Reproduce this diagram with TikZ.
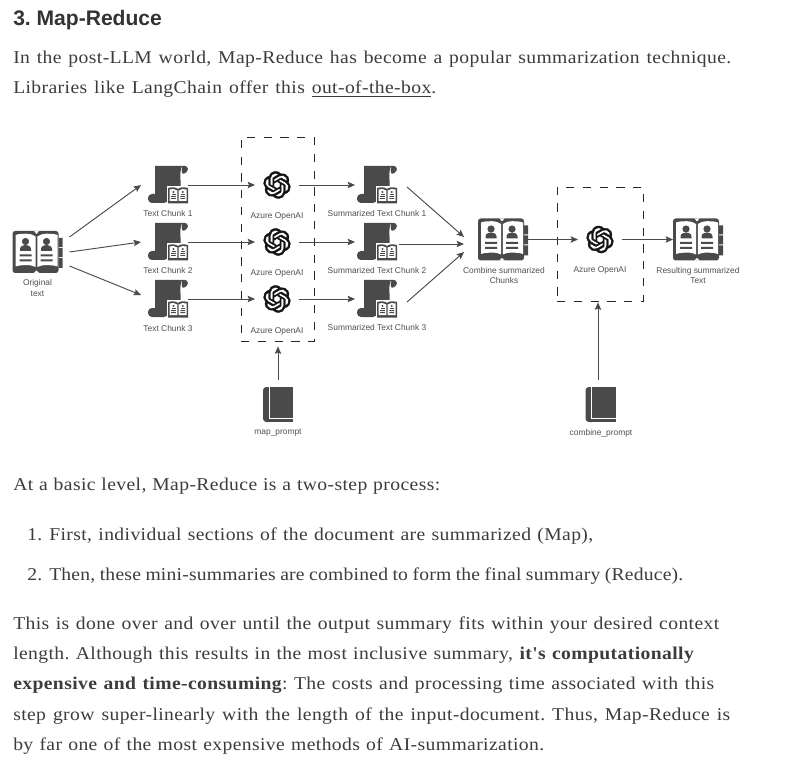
\documentclass[tikz,border=0pt]{standalone}
\usepackage{fontspec}
\usetikzlibrary{arrows.meta,calc,svg.path}
\newfontfamily\bodyfont[FakeStretch=1.09,LetterSpace=2.2]{Liberation Serif}
\newfontfamily\tightfont[FakeStretch=1.09,LetterSpace=1.2]{Liberation Serif}
\newfontfamily\headfont{Liberation Sans}
\newfontfamily\diafont{Liberation Sans}
\newdimen\pxu \pxu=0.75pt
\hbadness=10000 \hfuzz=50pt
\frenchspacing
\definecolor{ic}{HTML}{4A4A4A}
\definecolor{bodyc}{HTML}{3C3C3C}
\definecolor{labc}{HTML}{505050}
\tikzset{
  x=0.75pt,y=-0.75pt,
  iconbox/.style={inner sep=0pt,outer sep=0pt,minimum width=#1*0.75pt},
  lab/.style={font=\diafont\frenchspacing\fontsize{6.3}{7.6}\selectfont,text=labc,align=center,inner sep=0pt},
  arr/.style={draw=ic,line width=0.7pt,-{Stealth[length=5.5pt,width=4.8pt,inset=1pt]}},
  dashbox/.style={draw=black!85,line width=0.7pt,dash pattern=on 6.2pt off 6.4pt,inner sep=0pt,fill=none},
  bodyl/.style={anchor=base west,inner sep=0pt,text=bodyc,font=\bodyfont\frenchspacing\fontsize{13.5}{16}\selectfont},
  openbook/.pic={
    \fill[ic,rounded corners=2pt] (-25,-21) rectangle (21,21);
    \fill[ic] (21,-14) rectangle (25,-5) (21,-4) rectangle (25,5) (21,6) rectangle (25,16);
    \fill[white] (-3.5,-21.2) -- (1.5,-21.2) -- (-1,-18) -- cycle;
    \fill[white] (-22,-17) .. controls (-16,-19) and (-6,-19) .. (-1.8,-15.5) -- (-1.8,15) .. controls (-6,12.5) and (-16,12.5) .. (-22,14.5) -- cycle;
    \fill[white] (20,-17) .. controls (14,-19) and (4,-19) .. (-0.2,-15.5) -- (-0.2,15) .. controls (4,12.5) and (14,12.5) .. (20,14.5) -- cycle;
    \fill[white] (-4,21.2) -- (-1,18.5) -- (2,21.2) -- cycle;
    \foreach \dx in {0,21}{
      \fill[ic] (-12+\dx,-10.5) circle[radius=3.6];
      \fill[ic] (-17.5+\dx,-1.2) -- (-17.5+\dx,-3) .. controls (-17.5+\dx,-6) and (-14+\dx,-7) .. (-12+\dx,-7) .. controls (-10+\dx,-7) and (-6.5+\dx,-6) .. (-6.5+\dx,-3) -- (-6.5+\dx,-1.2) -- cycle;
      \fill[ic] (-18+\dx,2.5) rectangle (-6+\dx,4.3) (-18+\dx,7.5) rectangle (-6+\dx,9.3);
    }
  },
  scrollicon/.pic={
    \fill[ic] (-13,-19) -- (14,-19) .. controls (12,-16) and (12.5,-10) .. (12.5,-5) -- (12.5,10) -- (-13,10) -- cycle;
    \fill[ic] (14,-19) .. controls (18,-19.5) and (20.5,-18) .. (20,-16) .. controls (19.5,-13) and (16,-10.5) .. (14.5,-11.5) .. controls (13.5,-13) and (13.5,-17) .. (14,-19) -- cycle;
    \fill[ic,rounded corners=3pt] (-20,9) rectangle (0,18);
    \fill[white] (-1.5,1) rectangle (21.5,20);
    \fill[ic] (0,3) .. controls (4,2) and (8,2) .. (10,4) .. controls (12,2) and (16,2) .. (20,3) -- (20,18.5) -- (0,18.5) -- cycle;
    \fill[white] (1.5,4.5) .. controls (4,3.8) and (7,3.8) .. (9.4,5.5) -- (9.4,16) -- (1.5,16) -- cycle;
    \fill[white] (18.5,4.5) .. controls (16,3.8) and (13,3.8) .. (10.6,5.5) -- (10.6,16) -- (18.5,16) -- cycle;
    \foreach \dx in {0,9.2}{
      \fill[ic] (5.5+\dx,7) circle[radius=1.1];
      \fill[ic] (3.5+\dx,8.6) rectangle (7.5+\dx,10.2);
      \fill[ic] (3.2+\dx,11.2) rectangle (7.8+\dx,12) (3.2+\dx,13.2) rectangle (7.8+\dx,14);
    }
  },
  closedbook/.pic={
    \fill[ic,rounded corners=2.5pt] (-15,-17.5) rectangle (-5,17.5);
    \fill[ic] (-8,-17.5) rectangle (15,17.5);
    \fill[white] (-9.5,-17.5) rectangle (-8.5,13.5);
    \fill[white] (-9.5,13.5) rectangle (15,14.5);
  },
  oailogo/.pic={
    \filldraw[fill=black!92,draw=black!92,line width=0.25pt,even odd rule,xscale=0.85,yscale=-0.85,shift={(-12pt,-12pt)}] svg "M 22.2819 9.8211 a 5.9847 5.9847 0 0 0 -0.5157 -4.9108 a 6.0462 6.0462 0 0 0 -6.5098 -2.9 A 6.0651 6.0651 0 0 0 4.9807 4.1818 a 5.9847 5.9847 0 0 0 -3.9977 2.9 a 6.0462 6.0462 0 0 0 0.7427 7.0966 a 5.98 5.98 0 0 0 0.511 4.9107 a 6.051 6.051 0 0 0 6.5146 2.9001 A 5.9847 5.9847 0 0 0 13.2599 24 a 6.0557 6.0557 0 0 0 5.7718 -4.2058 a 5.9894 5.9894 0 0 0 3.9977 -2.9001 a 6.0557 6.0557 0 0 0 -0.7475 -7.0729 Z M 13.2599 22.4292 a 4.4755 4.4755 0 0 1 -2.8764 -1.0408 l 0.1419 -0.0804 l 4.7783 -2.7582 l 0.3927 -0.6813 v -6.7369 l 2.02 1.1686 l 0.038 0.052 v 5.5826 a 4.504 4.504 0 0 1 -4.4945 4.4944 Z M 3.5992 18.3038 a 4.4708 4.4708 0 0 1 -0.5346 -3.0137 l 0.142 0.0852 l 4.783 2.7582 l 0.7806 0 l 5.8428 -3.3685 v 2.3324 l -0.0332 0.0615 L 9.74 19.9502 a 4.4992 4.4992 0 0 1 -6.1408 -1.6464 Z M 2.3408 7.8956 a 4.485 4.485 0 0 1 2.3655 -1.9728 V 11.6 l 0.3879 0.6765 l 5.8144 3.3543 l -2.0201 1.1685 l -0.071 0 l -4.8303 -2.7865 A 4.504 4.504 0 0 1 2.3408 7.872 Z M 18.9371 11.7514 L 13.1038 8.364 L 15.1192 7.2 l 0.071 0 l 4.8303 2.7913 a 4.4944 4.4944 0 0 1 -0.6765 8.1042 v -5.6772 l -0.407 -0.667 Z M 20.9478 8.7283 l -0.142 -0.0852 l -4.7735 -2.7818 l -0.7854 0 L 9.409 9.2297 V 6.8974 l 0.0284 -0.0615 l 4.8303 -2.7866 a 4.4992 4.4992 0 0 1 6.6802 4.66 Z M 8.3065 12.863 l -2.02 -1.1638 l -0.038 -0.0567 V 6.0742 a 4.4992 4.4992 0 0 1 7.3757 -3.4537 l -0.142 0.0805 L 8.704 5.459 l -0.3927 0.6813 Z M 9.4041 10.4976 l 2.602 -1.4998 l 2.6069 1.4998 v 2.9994 l -2.5974 1.4997 l -2.6067 -1.4997 Z";
  },
}
\begin{document}
\begin{tikzpicture}
\useasboundingbox (0,0) rectangle (811,763);
\fill[white] (0,0) rectangle (811,763);

% page text
\node[anchor=base west,inner sep=0pt,text=black!80,font=\headfont\bfseries\frenchspacing\fontsize{15.8}{18}\selectfont] (head) at (13,26) {3. Map-Reduce};
\node[bodyl] (p1) at (13,64) {\hbox to 718\pxu{In the post-LLM world, Map-Reduce has become a popular summarization technique.}};
\node[bodyl] (p2) at (13,94) {\hbox to 423\pxu{Libraries like LangChain offer this \underline{out-of-the-box}.}};
\node[bodyl] (q0) at (13,490) {\hbox to 427\pxu{At a basic level, Map-Reduce is a two-step process:}};
\node[bodyl] (n1) at (27,540) {1.};
\node[bodyl] (q1) at (49,540) {\hbox to 544\pxu{First, individual sections of the document are summarized (Map),}};
\node[bodyl] (n2) at (27,580) {2.};
\node[bodyl] (q2) at (49,580) {\hbox to 634\pxu{\tightfont Then, these mini-summaries are combined to form the final summary (Reduce).}};
\node[bodyl] (r1) at (13,629) {\hbox to 706\pxu{This is done over and over until the output summary fits within your desired context}};
\node[bodyl] (r2) at (13,659) {\hbox to 681\pxu{length. Although this results in the most inclusive summary, \textbf{it's computationally}}};
\node[bodyl] (r3) at (13,689) {\hbox to 701\pxu{\textbf{expensive and time-consuming}: The costs and processing time associated with this}};
\node[bodyl] (r4) at (13,720) {\hbox to 717\pxu{step grow super-linearly with the length of the input-document. Thus, Map-Reduce is}};
\node[bodyl] (r5) at (13,750) {\hbox to 531\pxu{by far one of the most expensive methods of AI-summarization.}};

% dashed groups
\node[dashbox,minimum width=73*0.75pt,minimum height=204*0.75pt] (box1) at (277.5,239) {};
\node[dashbox,minimum width=86*0.75pt,minimum height=114*0.75pt] (box2) at (600,244) {};

% icon anchors
\node[iconbox=50,minimum height=31.5pt] (o) at (37.5,252) {};
\node[iconbox=40,minimum height=28pt] (t1) at (168,185) {};
\node[iconbox=40,minimum height=28pt] (t2) at (168,242) {};
\node[iconbox=40,minimum height=28pt] (t3) at (168,299) {};
\node[iconbox=44,minimum height=20pt] (a1) at (277,185) {};
\node[iconbox=44,minimum height=20pt] (a2) at (277,242) {};
\node[iconbox=44,minimum height=20pt] (a3) at (277,299) {};
\node[iconbox=44,minimum height=28pt] (s1) at (377,185) {};
\node[iconbox=44,minimum height=28pt] (s2) at (377,242) {};
\node[iconbox=44,minimum height=28pt] (s3) at (377,299) {};
\node[iconbox=50,minimum height=31.5pt] (c) at (503,239.5) {};
\node[iconbox=44,minimum height=20pt] (a4) at (600,239.5) {};
\node[iconbox=50,minimum height=31.5pt] (r) at (698,239.5) {};
\node[iconbox=30,minimum height=26.25pt] (mp) at (278,404.5) {};
\node[iconbox=30,minimum height=26.25pt] (cp) at (600.5,404.5) {};

% icons
\pic at (o) {openbook};
\pic at (c) {openbook};
\pic at (r) {openbook};
\foreach \n in {t1,t2,t3}{\pic at (\n) {scrollicon};}
\foreach \n in {s1,s2,s3}{\pic at (\n) {scrollicon};}
\foreach \n in {a1,a2,a3,a4}{\pic at (\n) {oailogo};}
\pic at (mp) {closedbook};
\pic at (cp) {closedbook};

% labels
\node[lab] (lo) at (37.5,288) {Original\\text};
\node[lab] (lt1) at (168,213.5) {Text Chunk 1};
\node[lab] (lt2) at (168,270.5) {Text Chunk 2};
\node[lab] (lt3) at (168,328) {Text Chunk 3};
\node[lab] (la1) at (277,216.5) {Azure OpenAI};
\node[lab] (la2) at (277,273.5) {Azure OpenAI};
\node[lab] (la3) at (277,331) {Azure OpenAI};
\node[lab] (ls1) at (377,213.5) {Summarized Text Chunk 1};
\node[lab] (ls2) at (377,270.5) {Summarized Text Chunk 2};
\node[lab] (ls3) at (377,327.5) {Summarized Text Chunk 3};
\node[lab] (lc) at (504,275.5) {Combine summarized\\Chunks};
\node[lab] (la4) at (600,270.5) {Azure OpenAI};
\node[lab] (lr) at (698,275.5) {Resulting summarized\\Text};
\node[lab] (lmp) at (278,433) {map\_prompt};
\node[lab] (lcp) at (601,433) {combine\_prompt};

% connectors
\draw[arr] ($(o.east)+(7,-15)$) -- ($(t1.west)+(-7,0)$);
\draw[arr] ($(o.east)+(7,0)$) -- ($(t2.west)+(-7,0)$);
\draw[arr] ($(o.east)+(7,14)$) -- ($(t3.west)+(-7,-4)$);
\foreach \i in {1,2,3}{
  \draw[arr] (t\i.east) -- (a\i.west);
  \draw[arr] (a\i.east) -- (s\i.west);
}
\draw[arr] ($(s1.east)+(8,2)$) -- ($(c.west)+(-14,-2.5)$);
\draw[arr] ($(s2.east)+(0,2)$) -- ($(c.west)+(-14,4.5)$);
\draw[arr] ($(s3.east)+(8,3)$) -- ($(c.west)+(-14,12.5)$);
\draw[arr] (c.east) -- (a4.west);
\draw[arr] (a4.east) -- (r.west);
\draw[arr] ($(mp.north)+(0,-7)$) -- ($(mp.north |- box1.south)+(0,5)$);
\draw[arr] ($(cp.north)+(-2.5,-7)$) -- ($(cp.north |- box2.south)+(-2.5,1)$);
\end{tikzpicture}
\end{document}
